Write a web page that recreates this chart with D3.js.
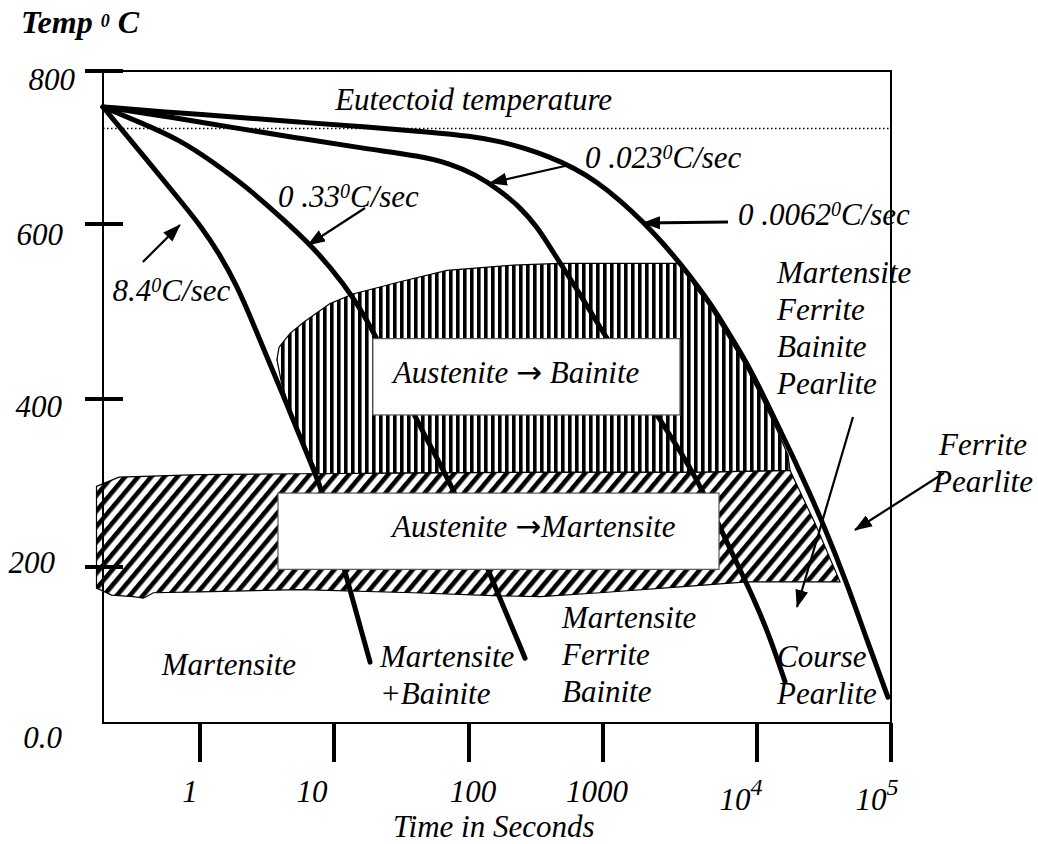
<!DOCTYPE html>
<html><head><meta charset="utf-8">
<script src="https://cdn.jsdelivr.net/npm/d3@7"></script>
<style>
html,body{margin:0;padding:0;background:#fff;}
svg{display:block;}
text{font-family:"Liberation Serif","Times New Roman",serif;font-style:italic;fill:#000;}
</style></head><body>
<svg id="chart" width="1038" height="844"></svg>
<script>
// ---------------- data ----------------
const timeTicks = [1, 10, 100, 1000, 10000, 100000];
const timeTickBase = ["1", "10", "100", "1000", "10", "10"];
const timeTickPow = ["", "", "", "", "4", "5"];
const tempTicks = [0, 200, 400, 600, 800];
const tempTickLabels = ["0.0", "200", "400", "600", "800"];
const eutectoidTemp = 725;

const rateNames = ["8.4", "0 .33", "0 .023", "0 .0062"];
const curve1Time = [0.19,0.357,0.709,1.0,1.41,1.89,2.36,3.16,4.31,5.58,6.85,8.28,12.06,18.5];
const curve1Temp = [753,695,631,599,565,529,495,448,399,355,320,289,194,78];
const curve2Time = [0.19,0.357,0.709,1.25,2.24,3.95,6.97,11.66,18.5,38.5,55.1,78.8,141,262];
const curve2Temp = [753,733,710,681,648,610,574,533,487,383,336,289,194,83];
const curve3Time = [0.19,0.60,1.76,5.58,17.6,43.4,72.3,111,170,240,322,416,567,800,1062,1543,2242,3023,3957,5103,6986,9419,12500,16180];
const curve3Temp = [753,740,726,712,698,689,679,665,644,622,597,570,538,501,469,425,381,344,308,268,214,162,110,53];
const curve4Time = [0.19,0.60,1.76,5.58,17.6,51.4,102,170,262,382,618,902,1290,1818,2453,3162,4078,5179,6677,8612,11090,14850,18570,24030,31080,46950,66220,95000];
const curve4Temp = [753,746,740,733,727,720,715,708,699,689,673,655,631,603,578,555,530,505,473,441,405,363,331,292,252,179,106,33];

// Martensite transformation band (diagonal hatch)
const bandTime = [0.17,0.25,1,5.58,30.8,402,4265,17640,27090,41640,8612,2848,950,339,170,38.5,5.58,1,0.45,0.38,0.32,0.22,0.17];
const bandTemp = [296,307,310,311,312,313,313,315,252,181,181,174,167,162,163,167,171,168,167,160,162,164,173];
// Bainite transformation region (vertical hatch)
const bainiteTime = [7.60,6.07,4.86,4.09,3.75,3.89,4.70,5.97,9.34,13.8,21.9,30.8,68.7,213,478,3258,3898,4952,6386,8234,10530,14100,17030,17640,4265,402,30.8];
const bainiteTemp = [311,345,381,416,445,459,475,488,509,520,528,534,547,553,555,555,530,505,473,441,405,363,333,315,313,313,312];

// label boxes
const boxLabelA = ["Austenite ", "Austenite "];
const boxLabelB = [" Bainite", "Martensite"];
const boxTime0 = [19.4, 3.82];
const boxTime1 = [3162, 5665];
const boxTemp0 = [381, 197];
const boxTemp1 = [469, 288];
const boxTextTime = [27.3, 26.9];
const boxTextTemp = [418.3, 235.7];

// region labels
const regionLines = [["Martensite"], ["Martensite","+Bainite"], ["Martensite","Ferrite","Bainite"], ["Course","Pearlite"], ["Martensite","Ferrite","Bainite","Pearlite"], ["Ferrite","Pearlite"]];
const regionTime = [0.52, 21.9, 494, 14100, 14100, 486000];
const regionTemp = [61.5, 71.8, 121.8, 71.8, 532.6, 333.3];

// cooling-rate labels
const rateLabelTime = [0.224, 3.82, 734, 7527];
const rateLabelTemp = [512, 622, 673, 599];

// arrows
const arrowFromTime = [0.376, 16.97, 520, 6482, 52040, 248600];
const arrowFromTemp = [556.6, 620.9, 675.8, 602.6, 378.6, 311.9];
const arrowToTime = [0.709, 6.40, 143, 1818, 19890, 53850];
const arrowToTemp = [598.9, 576, 653.6, 601.3, 148.7, 244.0];

const eutectoidLabelTime = 10.2, eutectoidLabelTemp = 749;

// ---------------- layout / style ----------------
const svg = d3.select("#chart");
const x = d3.scaleLog().domain([0.19, 1, 10, 100, 1000, 1e4, 1e5]).range([103, 200, 334, 469, 603, 757, 891]);
const y = d3.scaleLinear().domain([0, 200, 400, 600, 800]).range([723, 567, 399, 224, 71]);
const FS = 31;
const yLabelEnd = {0: 62, 200: 55, 400: 62, 600: 63, 800: 75};
const yLabelDy = {0: 25, 200: 6, 400: 18, 600: 21, 800: 19};
const xLabelDx = [-10, -22, 4, -6, -16, -14];
const xLabelBase = [802, 802, 802, 802, 810, 810];
const lineGap = 37;

const defs = svg.append("defs");
const pv = defs.append("pattern").attr("id", "vhatch").attr("patternUnits", "userSpaceOnUse")
  .attr("width", 7).attr("height", 10);
pv.append("rect").attr("width", 7).attr("height", 10).attr("fill", "#fff");
pv.append("rect").attr("x", 1).attr("width", 3.6).attr("height", 10).attr("fill", "#000");
const pd = defs.append("pattern").attr("id", "dhatch").attr("patternUnits", "userSpaceOnUse")
  .attr("width", 10).attr("height", 10).attr("patternTransform", "rotate(40)");
pd.append("rect").attr("width", 10).attr("height", 10).attr("fill", "#fff");
pd.append("rect").attr("width", 4.6).attr("height", 10).attr("fill", "#000");
defs.append("marker").attr("id", "ah").attr("markerUnits", "userSpaceOnUse")
  .attr("markerWidth", 18).attr("markerHeight", 13).attr("refX", 17).attr("refY", 6.5)
  .attr("orient", "auto").append("path").attr("d", "M0,0L18,6.5L0,13Z").attr("fill", "#000");

const zip = (a, b) => a.map((v, i) => [v, b[i]]);
const poly = d3.line().x(d => x(d[0])).y(d => y(d[1]));
const smooth = d3.line().x(d => x(d[0])).y(d => y(d[1])).curve(d3.curveBasis);

// hatched regions
svg.append("path").attr("d", poly(zip(bandTime, bandTemp)) + "Z")
  .attr("fill", "url(#dhatch)").attr("stroke", "#000").attr("stroke-width", 1.2);
svg.append("path").attr("d", poly(zip(bainiteTime, bainiteTemp)) + "Z")
  .attr("fill", "url(#vhatch)").attr("stroke", "#000").attr("stroke-width", 1.2);

// frame
const xL = x(0.19), xR = x(1e5), yT = y(800), yB = y(0);
svg.append("rect").attr("x", xL).attr("y", yT).attr("width", xR - xL).attr("height", yB - yT)
  .attr("fill", "none").attr("stroke", "#000").attr("stroke-width", 2);

// eutectoid line
svg.append("line").attr("x1", xL).attr("x2", xR).attr("y1", y(eutectoidTemp)).attr("y2", y(eutectoidTemp))
  .attr("stroke", "#000").attr("stroke-width", 1.5).attr("stroke-dasharray", "1.5,2.5");

// cooling curves
[[curve1Time, curve1Temp], [curve2Time, curve2Temp], [curve3Time, curve3Temp], [curve4Time, curve4Temp]]
  .forEach(([t, T]) => {
    svg.append("path").attr("d", smooth(zip(t, T))).attr("fill", "none")
      .attr("stroke", "#000").attr("stroke-width", 5).attr("stroke-linecap", "round");
  });

// boxes
boxLabelA.forEach((lab, i) => {
  const x0 = x(boxTime0[i]), x1 = x(boxTime1[i]), y0 = y(boxTemp1[i]), y1 = y(boxTemp0[i]);
  svg.append("rect").attr("x", x0).attr("y", y0).attr("width", x1 - x0).attr("height", y1 - y0)
    .attr("fill", "#fff").attr("stroke", "#555").attr("stroke-width", 1.2);
  const t = svg.append("text").attr("x", x(boxTextTime[i])).attr("y", y(boxTextTemp[i])).attr("font-size", FS);
  t.append("tspan").text(lab);
  t.append("tspan").style("font-family", "'DejaVu Sans'").style("font-style", "normal")
    .attr("font-size", 31).text("\u2192");
  t.append("tspan").text(boxLabelB[i]);
});

// axis ticks
svg.append("g").selectAll("line").data(tempTicks).join("line")
  .attr("x1", xL - 18).attr("x2", xL + 20).attr("y1", d => y(d)).attr("y2", d => y(d))
  .attr("stroke", "#000").attr("stroke-width", 4)
  .attr("display", d => d === 0 ? "none" : null);
svg.append("g").selectAll("text").data(tempTicks).join("text")
  .attr("x", d => yLabelEnd[d]).attr("y", d => y(d) + yLabelDy[d])
  .attr("text-anchor", "end").attr("font-size", FS)
  .text((d, i) => tempTickLabels[i]);
svg.append("g").selectAll("line").data(timeTicks).join("line")
  .attr("x1", d => x(d)).attr("x2", d => x(d)).attr("y1", yB).attr("y2", yB + 39)
  .attr("stroke", "#000").attr("stroke-width", 4);
timeTicks.forEach((d, i) => {
  const t = svg.append("text").attr("x", x(d) + xLabelDx[i]).attr("y", xLabelBase[i])
    .attr("text-anchor", "middle").attr("font-size", FS);
  t.append("tspan").text(timeTickBase[i]);
  if (timeTickPow[i]) t.append("tspan").attr("font-size", 24).attr("dy", -15).text(timeTickPow[i]);
});
svg.append("text").attr("x", 393).attr("y", 837)
  .attr("font-size", FS).text("Time in Seconds");
const title = svg.append("text").attr("x", 21).attr("y", 33).attr("font-size", 32).attr("font-weight", "bold");
title.append("tspan").text("Temp ");
title.append("tspan").attr("font-size", 18).attr("dy", -6).text("0");
title.append("tspan").attr("dy", 6).text(" C");

// eutectoid label
svg.append("text").attr("x", x(eutectoidLabelTime)).attr("y", y(eutectoidLabelTemp))
  .attr("font-size", FS).text("Eutectoid temperature");

// arrows
arrowFromTime.forEach((t, i) => {
  svg.append("line").attr("x1", x(t)).attr("y1", y(arrowFromTemp[i]))
    .attr("x2", x(arrowToTime[i])).attr("y2", y(arrowToTemp[i]))
    .attr("stroke", "#000").attr("stroke-width", i === 3 ? 3 : 2.2).attr("marker-end", "url(#ah)");
});

// rate labels
rateNames.forEach((r, i) => {
  const t = svg.append("text").attr("x", x(rateLabelTime[i])).attr("y", y(rateLabelTemp[i])).attr("font-size", FS);
  t.append("tspan").text(r);
  t.append("tspan").attr("font-size", 20).attr("dy", -9).text("0");
  t.append("tspan").attr("dy", 9).text("C/sec");
});

// region labels
regionLines.forEach((lines, i) => {
  const mid = i === 5;
  const t = svg.append("text").attr("font-size", FS).attr("text-anchor", mid ? "middle" : "start");
  lines.forEach((l, j) => {
    t.append("tspan").attr("x", x(regionTime[i])).attr("y", y(regionTemp[i]) + j * lineGap).text(l);
  });
});
</script>
</body></html>
